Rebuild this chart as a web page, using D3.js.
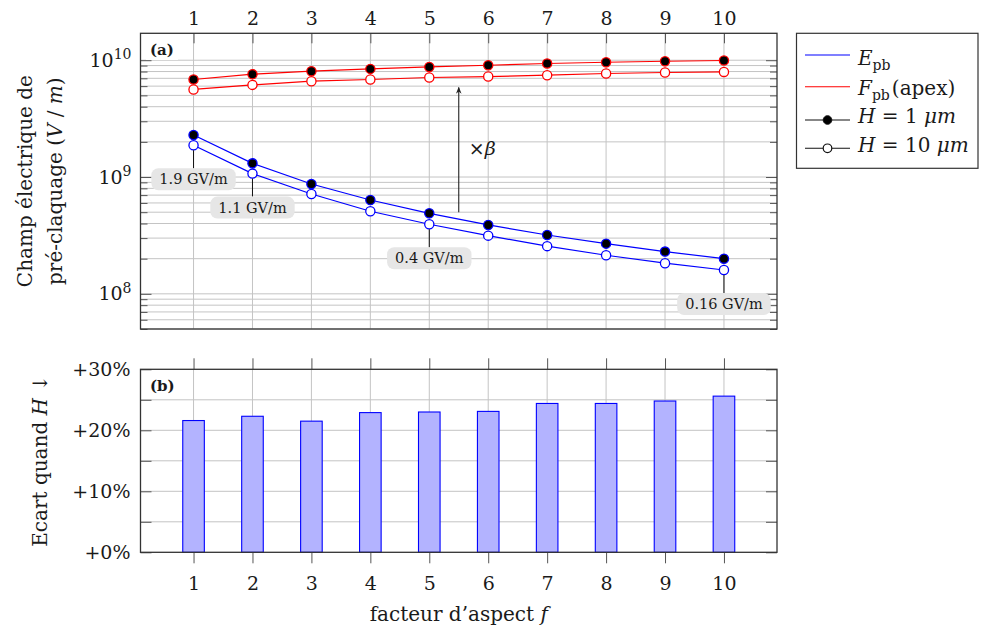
<!DOCTYPE html>
<html><head><meta charset="utf-8">
<script src="https://cdn.jsdelivr.net/npm/d3@7"></script>
<style>
body{margin:0;background:#fff}
svg{display:block}
text{font-family:"DejaVu Serif",serif;fill:#1a1a1a}
</style>
</head><body>
<svg id="c" width="981" height="632"></svg>
<script>
// ---------- data ----------
const factors = [1,2,3,4,5,6,7,8,9,10];
const xTickLabels = ["1","2","3","4","5","6","7","8","9","10"];
const E_H1  = [2.29e9,1.31e9,8.71e8,6.36e8,4.89e8,3.89e8,3.19e8,2.69e8,2.30e8,2.00e8];
const E_H10 = [1.87e9,1.07e9,7.16e8,5.09e8,3.94e8,3.15e8,2.56e8,2.14e8,1.83e8,1.60e8];
const F_H1  = [6.84e9,7.59e9,8.05e9,8.43e9,8.76e9,9.06e9,9.37e9,9.61e9,9.80e9,9.94e9];
const F_H10 = [5.62e9,6.15e9,6.61e9,6.84e9,7.11e9,7.25e9,7.44e9,7.70e9,7.85e9,7.94e9];
const ecartPct = [21.6,22.3,21.5,22.9,23.0,23.1,24.4,24.4,24.8,25.6];
const yTopMajor = [1e8,1e9,1e10];
const yTopExp = ["8","9","10"];
const yBotTicks = [0,5,10,15,20,25,30];
const yBotLabels = [0,10,20,30];
const pinIdx = [0,1,4,9];
const pinText = ["1.9 GV/m","1.1 GV/m","0.4 GV/m","0.16 GV/m"];
const arrowF = 5.5, arrowFrom = 5.0e8, arrowTo = 5.85e9;

// ---------- layout ----------
const svg = d3.select("#c");
const L=140.5, R=777, T1=33.3, B1=329, T2=369.3, B2=552.3;
const x  = d3.scaleLinear().domain([0.1,10.9]).range([L,R]);
const yT = d3.scaleLog().domain([5e7,1.7e10]).range([B1,T1]);
const yB = d3.scaleLinear().domain([0,30]).range([B2,T2]);
const gridC = "#c4c4c4", tickC = "#555", frameC = "#333";

const logMinor = [];
for (let e=7;e<=10;e++) for (let k=1;k<=9;k++){ const v=k*Math.pow(10,e); if (v>=5e7 && v<=1.7e10) logMinor.push(v); }
const logMinorOnly = logMinor.filter(v=>!yTopMajor.includes(v));

function styleAxis(g){ g.select(".domain").remove(); g.selectAll(".tick line").attr("stroke",tickC).attr("stroke-width",1); g.selectAll("text").attr("font-family","DejaVu Serif").attr("font-size",19).attr("fill","#1a1a1a"); }

// ---------- top panel ----------
const gTop = svg.append("g");
gTop.append("g").selectAll("line").data(logMinor).join("line")
  .attr("x1",L).attr("x2",R).attr("y1",d=>yT(d)).attr("y2",d=>yT(d))
  .attr("stroke",gridC).attr("stroke-width",1);
gTop.append("g").selectAll("line").data(factors).join("line")
  .attr("x1",d=>x(d)).attr("x2",d=>x(d)).attr("y1",T1).attr("y2",B1)
  .attr("stroke",gridC).attr("stroke-width",1);

// (a) label box
gTop.append("rect").attr("x",146).attr("y",38).attr("width",32).attr("height",22).attr("fill","#fff");
gTop.append("text").attr("x",150).attr("y",55).attr("font-size",15).attr("font-weight","bold").text("(a)");

// axes top panel
gTop.append("g").attr("transform",`translate(0,${T1})`)
  .call(d3.axisTop(x).tickValues(factors).tickFormat((d,i)=>xTickLabels[i]).tickSize(-10).tickPadding(8))
  .call(styleAxis);
const yl = gTop.append("g").attr("transform",`translate(${L},0)`)
  .call(d3.axisLeft(yT).tickValues(yTopMajor).tickSize(-11).tickPadding(9).tickFormat(()=>""))
  .call(styleAxis);
yl.selectAll(".tick text").each(function(d,i){
  const t=d3.select(this);
  t.append("tspan").text("10");
  t.append("tspan").attr("font-size",14).attr("dy","-0.55em").text(yTopExp[i]);
});
gTop.append("g").attr("transform",`translate(${L},0)`)
  .call(d3.axisLeft(yT).tickValues(logMinorOnly).tickSize(-7).tickFormat(()=>""))
  .call(styleAxis);
gTop.append("g").attr("transform",`translate(${R},0)`)
  .call(d3.axisRight(yT).tickValues(yTopMajor).tickSize(-11).tickFormat(()=>""))
  .call(styleAxis);
gTop.append("g").attr("transform",`translate(${R},0)`)
  .call(d3.axisRight(yT).tickValues(logMinorOnly).tickSize(-7).tickFormat(()=>""))
  .call(styleAxis);

// arrow ×β
svg.append("defs").append("marker").attr("id","ah").attr("viewBox","0 0 10 10")
  .attr("refX",9).attr("refY",5).attr("markerWidth",7).attr("markerHeight",7).attr("orient","auto-start-reverse")
  .attr("markerUnits","userSpaceOnUse")
  .append("path").attr("d","M0,1 L10,5 L0,9 L3,5 Z").attr("fill","#222");
gTop.append("line").attr("x1",x(arrowF)).attr("x2",x(arrowF)).attr("y1",yT(arrowFrom)).attr("y2",yT(arrowTo))
  .attr("stroke","#222").attr("stroke-width",1.1).attr("marker-end","url(#ah)");
const bt = gTop.append("text").attr("x",x(arrowF)+10).attr("y",(yT(arrowFrom)+yT(arrowTo))/2+5).attr("font-size",19);
bt.append("tspan").text("×");
bt.append("tspan").attr("font-style","italic").text("β");

// lines
const series = [
  {v:E_H1, c:"#0000ff", fill:"#000"},
  {v:E_H10,c:"#0000ff", fill:"#fff"},
  {v:F_H1, c:"#ff0000", fill:"#000"},
  {v:F_H10,c:"#ff0000", fill:"#fff"}
];
const line = d3.line().x((d,i)=>x(factors[i])).y(d=>yT(d));
series.forEach(s=>{
  gTop.append("path").attr("d",line(s.v)).attr("fill","none").attr("stroke",s.c).attr("stroke-width",1.2);
});
series.forEach(s=>{
  gTop.append("g").selectAll("circle").data(s.v).join("circle")
    .attr("cx",(d,i)=>x(factors[i])).attr("cy",d=>yT(d)).attr("r",4.6)
    .attr("fill",s.fill).attr("stroke",s.c).attr("stroke-width",1.3);
});

// pins
pinIdx.forEach((idx,k)=>{
  const px = x(factors[idx]), py = yT(E_H10[idx]);
  const boxTop = py+23, boxH = 22;
  gTop.append("line").attr("x1",px).attr("x2",px).attr("y1",py+5).attr("y2",boxTop).attr("stroke","#111").attr("stroke-width",1);
  const g = gTop.append("g");
  const rect = g.append("rect").attr("fill","#e6e6e6").attr("rx",7).attr("ry",7);
  const t = g.append("text").attr("x",px).attr("y",boxTop+16).attr("text-anchor","middle").attr("font-size",14.5).text(pinText[k]);
  const w = t.node().getComputedTextLength()+16;
  rect.attr("x",px-w/2).attr("y",boxTop).attr("width",w).attr("height",boxH);
});

gTop.append("rect").attr("x",L).attr("y",T1).attr("width",R-L).attr("height",B1-T1)
  .attr("fill","none").attr("stroke",frameC).attr("stroke-width",1.3);

// y title top
const yt = svg.append("g").attr("transform","rotate(-90)");
yt.append("text").attr("x",-(T1+B1)/2).attr("y",32).attr("text-anchor","middle").attr("font-size",20).text("Champ électrique de");
const yt2 = yt.append("text").attr("x",-(T1+B1)/2).attr("y",62).attr("text-anchor","middle").attr("font-size",20);
yt2.append("tspan").text("pré-claquage (");
yt2.append("tspan").attr("font-style","italic").text("V");
yt2.append("tspan").text(" / ");
yt2.append("tspan").attr("font-style","italic").text("m");
yt2.append("tspan").text(")");

// ---------- legend ----------
const lg = svg.append("g");
lg.append("rect").attr("x",796.5).attr("y",33.3).attr("width",181.5).attr("height",135).attr("fill","#fff").attr("stroke",frameC).attr("stroke-width",1.2);
const legY = [55,86.7,120,148.3];
const legBase = [64.5,95,122.7,151.7];
const legCol = ["#0000ff","#ff0000","#111","#111"];
legY.forEach((yy,i)=>{
  lg.append("line").attr("x1",805).attr("x2",850).attr("y1",yy).attr("y2",yy).attr("stroke",legCol[i]).attr("stroke-width",1.1);
});
lg.append("circle").attr("cx",827.5).attr("cy",legY[2]).attr("r",4.3).attr("fill","#000").attr("stroke","#111");
lg.append("circle").attr("cx",827.5).attr("cy",legY[3]).attr("r",4.3).attr("fill","#fff").attr("stroke","#111").attr("stroke-width",1.2);
let t1 = lg.append("text").attr("x",858).attr("y",legBase[0]).attr("font-size",20);
t1.append("tspan").attr("font-style","italic").text("E");
t1.append("tspan").attr("font-size",14).attr("dy",5).text("pb");
let t2 = lg.append("text").attr("x",858).attr("y",legBase[1]).attr("font-size",20);
t2.append("tspan").attr("font-style","italic").text("F");
t2.append("tspan").attr("font-size",14).attr("dy",5).text("pb");
t2.append("tspan").attr("dy",-5).attr("dx",2).text("(apex)");
let t3 = lg.append("text").attr("x",858).attr("y",legBase[2]).attr("font-size",20);
t3.append("tspan").attr("font-style","italic").text("H");
t3.append("tspan").text(" = 1 ");
t3.append("tspan").attr("font-style","italic").text("μm");
let t4 = lg.append("text").attr("x",858).attr("y",legBase[3]).attr("font-size",20);
t4.append("tspan").attr("font-style","italic").text("H");
t4.append("tspan").text(" = 10 ");
t4.append("tspan").attr("font-style","italic").text("μm");

// ---------- bottom panel ----------
const bot = svg.append("g");
bot.append("g").selectAll("line").data(yBotTicks.filter(d=>d>0&&d<30)).join("line")
  .attr("x1",L).attr("x2",R).attr("y1",d=>yB(d)).attr("y2",d=>yB(d)).attr("stroke",gridC);
bot.append("g").selectAll("line").data(factors).join("line")
  .attr("x1",d=>x(d)).attr("x2",d=>x(d)).attr("y1",T2).attr("y2",B2).attr("stroke",gridC);
const barW = (x(2)-x(1))*0.366;
bot.append("g").selectAll("rect").data(ecartPct).join("rect")
  .attr("x",(d,i)=>x(factors[i])-barW/2).attr("y",d=>yB(d))
  .attr("width",barW).attr("height",d=>yB(0)-yB(d))
  .attr("fill","#b3b3ff").attr("stroke","#0000ff").attr("stroke-width",1.1);
bot.append("text").attr("x",150).attr("y",391).attr("font-size",15).attr("font-weight","bold").text("(b)");

bot.append("g").attr("transform",`translate(0,${B2})`)
  .call(d3.axisBottom(x).tickValues(factors).tickFormat((d,i)=>xTickLabels[i]).tickSize(11).tickPadding(13))
  .call(styleAxis);
bot.append("g").attr("transform",`translate(0,${T2})`)
  .call(d3.axisTop(x).tickValues(factors).tickFormat(()=>"").tickSize(11))
  .call(styleAxis);
bot.append("g").attr("transform",`translate(${L},0)`)
  .call(d3.axisLeft(yB).tickValues(yBotTicks).tickSize(-11).tickPadding(10)
    .tickFormat(d=>yBotLabels.includes(d)?("+"+d+"%"):""))
  .call(styleAxis);
bot.append("g").attr("transform",`translate(${R},0)`)
  .call(d3.axisRight(yB).tickValues(yBotTicks).tickSize(-11).tickFormat(()=>""))
  .call(styleAxis);
bot.append("rect").attr("x",L).attr("y",T2).attr("width",R-L).attr("height",B2-T2)
  .attr("fill","none").attr("stroke",frameC).attr("stroke-width",1.3);

const yb = svg.append("g").attr("transform","rotate(-90)").append("text")
  .attr("x",-(T2+B2)/2).attr("y",47).attr("text-anchor","middle").attr("font-size",20);
yb.append("tspan").text("Ecart quand ");
yb.append("tspan").attr("font-style","italic").text("H");
yb.append("tspan").text(" ↓");

const xt = svg.append("text").attr("x",(L+R)/2).attr("y",621).attr("text-anchor","middle").attr("font-size",20);
xt.append("tspan").text("facteur d’aspect ");
xt.append("tspan").attr("font-style","italic").text("f");
</script>
</body></html>
